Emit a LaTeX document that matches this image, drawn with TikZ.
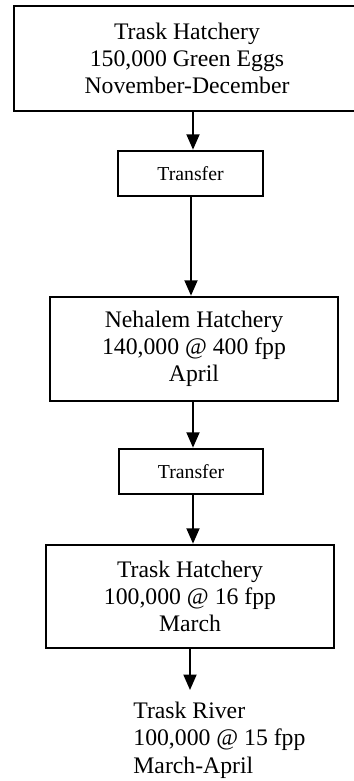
\documentclass[tikz,border=0pt]{standalone}
\usepackage{fontspec}
\setmainfont{Liberation Serif}
\usetikzlibrary{arrows.meta}
\begin{document}
\begin{tikzpicture}[x=0.506pt,y=-0.506pt,
  bigbox/.style={draw,line width=1.35pt,rectangle,inner sep=0pt,align=center,
    font=\fontsize{12}{13.7}\selectfont},
  smallbox/.style={draw,line width=1.35pt,rectangle,inner sep=0pt,align=center,
    font=\fontsize{10}{12}\selectfont},
  arr/.style={line width=0.85pt,-{Triangle[width=6.6pt,length=7.8pt]}},
  plain/.style={inner sep=0pt,align=left,font=\fontsize{12}{13.7}\selectfont}]
\useasboundingbox (0,0) rectangle (354,781);
\node[bigbox,minimum width=175.08pt,minimum height=53.13pt] (b1) at (187,58.5)
  {Trask Hatchery\\150,000 Green Eggs\\November-December};
\node[smallbox,minimum width=73.37pt,minimum height=22.77pt] (t1) at (190.5,173.5) {Transfer};
\node[bigbox,minimum width=145.73pt,minimum height=52.62pt] (b2) at (194,349)
  {Nehalem Hatchery\\140,000 @ 400 fpp\\April};
\node[smallbox,minimum width=72.86pt,minimum height=22.77pt] (t2) at (191,471.5) {Transfer};
\node[bigbox,minimum width=145.73pt,minimum height=52.12pt] (b3) at (190,596.5)
  {Trask Hatchery\\100,000 @ 16 fpp\\March};
\node[plain,anchor=north west] (river) at (133,702)
  {Trask River\\100,000 @ 15 fpp\\March-April};
\coordinate (c1) at (193,0);
\coordinate (c2) at (191,0);
\coordinate (c3) at (193,0);
\coordinate (c4) at (193,0);
\coordinate (end) at (190,690);
\draw[arr] (b1.south -| c1) -- (t1.north -| c1);
\draw[arr] (t1.south -| c2) -- (b2.north -| c2);
\draw[arr] (b2.south -| c3) -- (t2.north -| c3);
\draw[arr] (t2.south -| c4) -- (b3.north -| c4);
\draw[arr] (b3.south -| end) -- (end);
\end{tikzpicture}
\end{document}
